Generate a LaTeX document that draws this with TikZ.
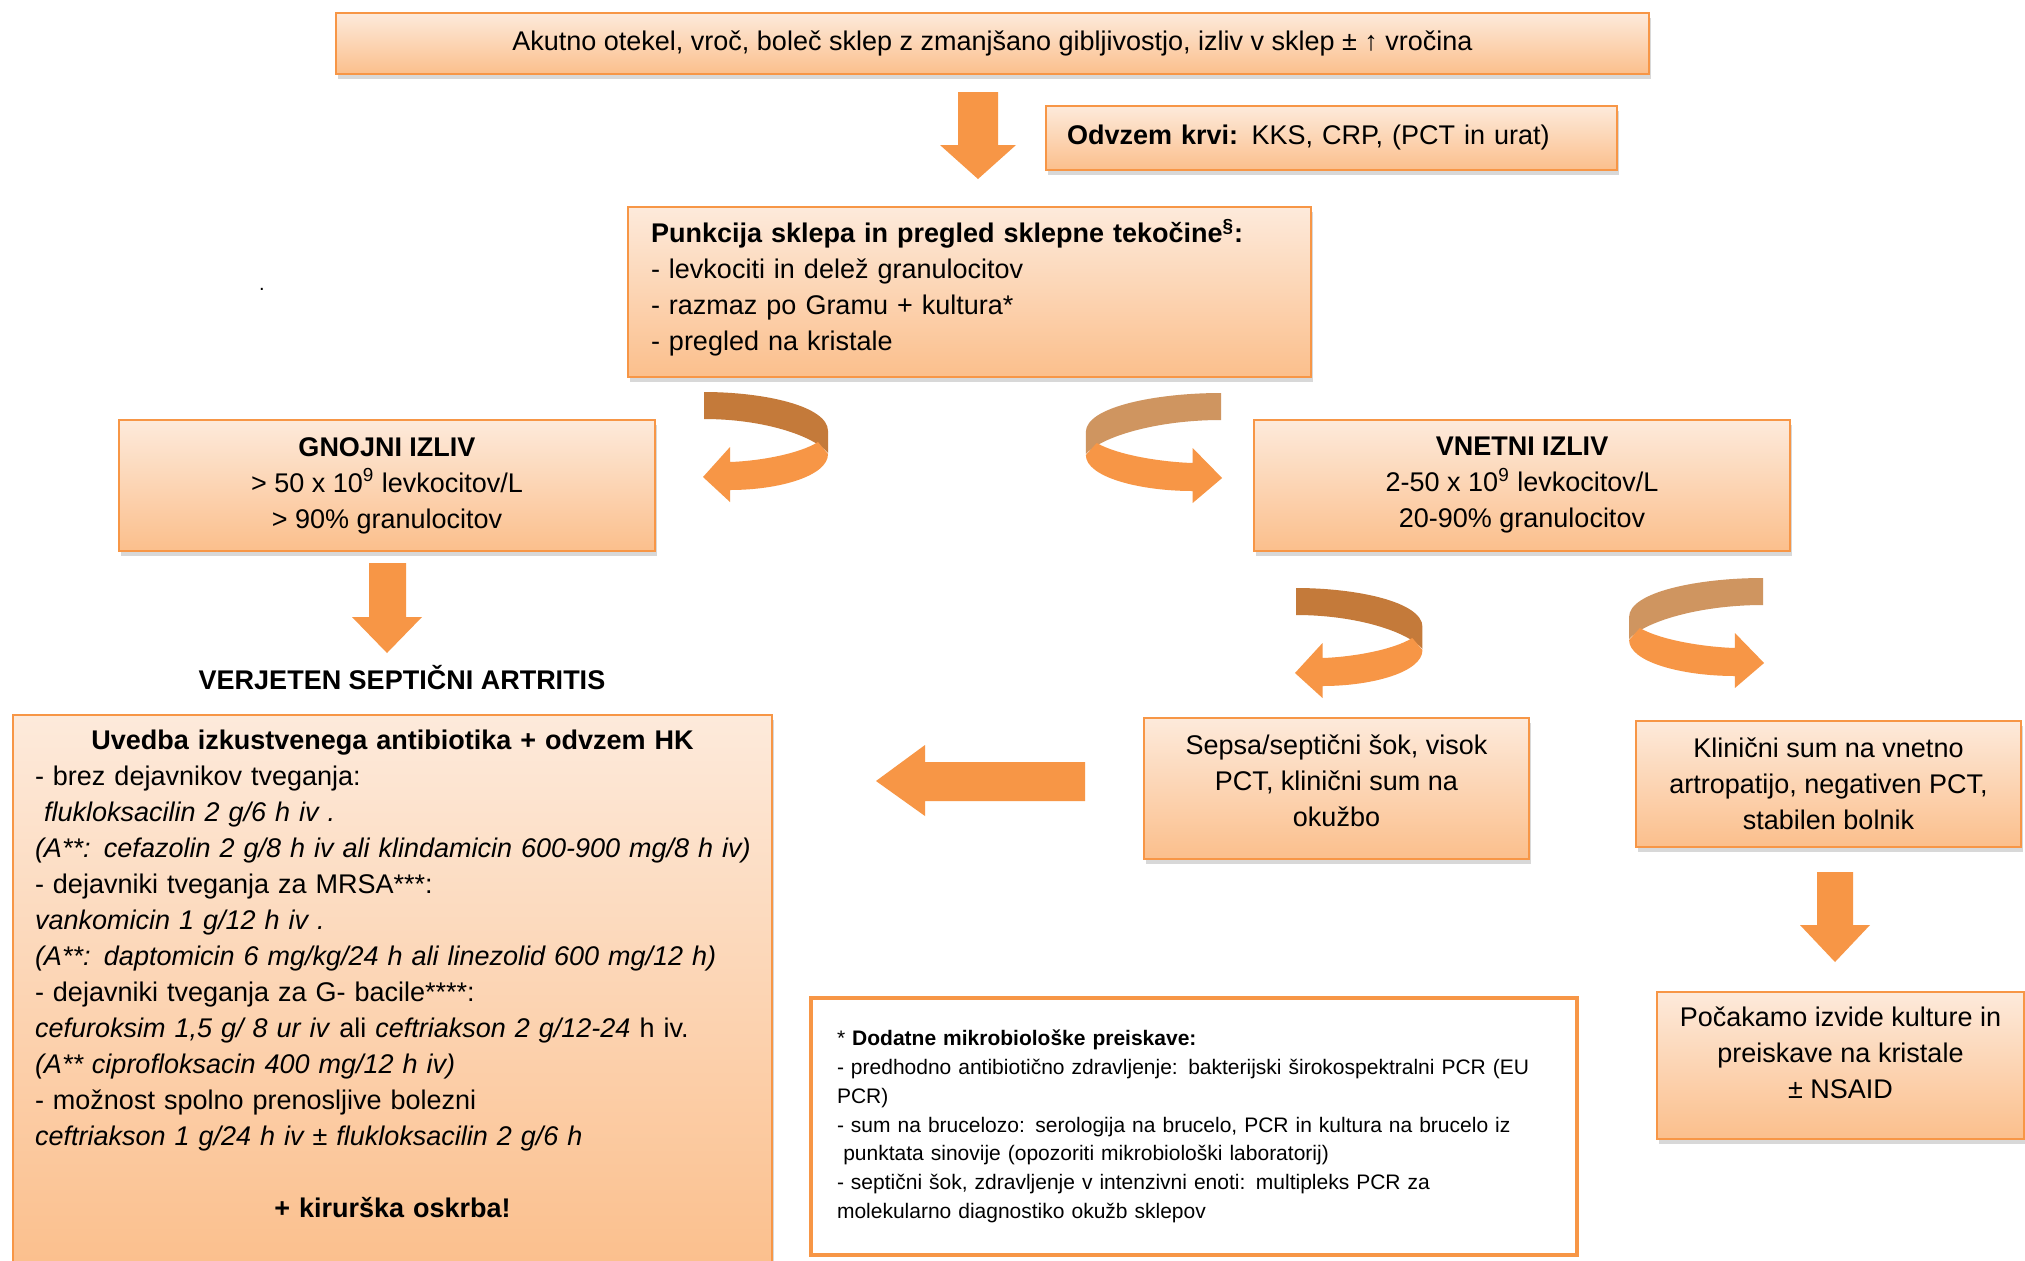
\documentclass[tikz,border=0pt]{standalone}
\usepackage{fontspec}
\setmainfont{Liberation Sans}
\usetikzlibrary{shadows}
\definecolor{boxtop}{HTML}{FDEADB}
\definecolor{boxbot}{HTML}{FBBF8C}
\definecolor{boxline}{HTML}{F79646}
\definecolor{arroworange}{HTML}{F79646}
\definecolor{backdark}{HTML}{C47A3A}
\definecolor{backlight}{HTML}{CF9560}
\tikzset{
  stage/.style={draw=boxline, line width=0.8pt, top color=boxtop, bottom color=boxbot,
    drop shadow={shadow xshift=1pt, shadow yshift=-2.5pt, opacity=0.3},
    font=\fontsize{13.5}{18}\selectfont, align=center, inner sep=0pt},
  note/.style={draw=boxline, line width=2pt, fill=white, align=left,
    font=\fontsize{10.5}{14.4}\selectfont, inner sep=0pt},
  fatarrow/.style={fill=arroworange},
  pics/turnarrow/.style={code={
    % back of the ribbon
    \fill[#1] (0,1) .. controls (60,1) and (124,15) .. (124,40) -- (124,62)
      .. controls (110,45) and (60,28) .. (0,28) -- cycle;
    % front of the ribbon with its head
    \fill[arroworange] (114,51) .. controls (95,63) and (55,70) .. (26,71)
      -- (26,56) -- (-1,86) -- (26,111) -- (26,99) .. controls (75,99) and (124,85) .. (124,63) -- cycle;
  }}
}
\begin{document}
\begin{tikzpicture}[x=0.5pt, y=-0.5pt]
\clip (0,0) rectangle (2025,1260);
\fill[white] (0,0) rectangle (2025,1260);

\node[stage, minimum width=656.5pt, minimum height=30.5pt] (onset) at (992.5,43.5)
  {Akutno otekel, vroč, boleč sklep z zmanjšano gibljivostjo, izliv v sklep ± ↑ vročina};
\node[stage, align=left, text width=264.5pt, inner xsep=10.5pt, minimum height=32pt] (blood) at (1331.5,138)
  {\textbf{Odvzem krvi:} KKS, CRP, (PCT in urat)};
\node[stage, align=left, text width=318.5pt, inner xsep=11.5pt, minimum height=85pt, text depth=61pt] (puncture) at (969.5,292)
  {\textbf{Punkcija sklepa in pregled sklepne tekočine\textsuperscript{§}:}\\
   - levkociti in delež granulocitov\\
   - razmaz po Gramu + kultura*\\
   - pregled na kristale};
\node (stray) at (262,289) {.};

\node[stage, minimum width=268pt, minimum height=65.5pt] (purulent) at (387,485.5)
  {\textbf{GNOJNI IZLIV}\\ > 50 x 10\textsuperscript{9} levkocitov/L\\ > 90\% granulocitov};
\node[stage, minimum width=268pt, minimum height=65.5pt] (inflam) at (1522,485.5)
  {\textbf{VNETNI IZLIV}\\ 2-50 x 10\textsuperscript{9} levkocitov/L\\ 20-90\% granulocitov};
\node[font=\fontsize{13.5}{18}\selectfont\bfseries] (septic) at (402,678) {VERJETEN SEPTIČNI ARTRITIS};

\node[stage, anchor=north, align=left, text width=357.5pt, inner xsep=11pt, inner ysep=7.5pt, text depth=255pt] (therapy) at (392.5,714)
  {\makebox[\linewidth][c]{\textbf{Uvedba izkustvenega antibiotika + odvzem HK}}\\
   - brez dejavnikov tveganja:\\
   \textit{\ flukloksacilin 2 g/6 h iv .}\\
   \mbox{\textit{(A**: cefazolin 2 g/8 h iv ali klindamicin 600-900 mg/8 h iv)}}\\
   - dejavniki tveganja za MRSA***:\\
   \textit{vankomicin 1 g/12 h iv .}\\
   \mbox{\textit{(A**: daptomicin 6 mg/kg/24 h ali linezolid 600 mg/12 h)}}\\
   - dejavniki tveganja za G- bacile****:\\
   \mbox{\textit{cefuroksim 1,5 g/ 8 ur iv} ali \textit{ceftriakson 2 g/12-24} h iv.}\\
   \textit{(A** ciprofloksacin 400 mg/12 h iv)}\\
   - možnost spolno prenosljive bolezni\\
   \mbox{\textit{ceftriakson 1 g/24 h iv ± flukloksacilin 2 g/6 h}}\\[18pt]
   \makebox[\linewidth][c]{\textbf{+ kirurška oskrba!}}};

\node[stage, minimum width=192.5pt, minimum height=70.5pt, text depth=8pt] (sepsis) at (1336.5,788.5)
  {Sepsa/septični šok, visok\\ PCT, klinični sum na\\ okužbo};
\node[stage, minimum width=192.5pt, minimum height=63pt] (clinical) at (1828.5,784)
  {Klinični sum na vnetno\\ artropatijo, negativen PCT,\\ stabilen bolnik};
\node[stage, minimum width=183.5pt, minimum height=73.5pt, text depth=13pt] (wait) at (1840.5,1065.5)
  {Počakamo izvide kulture in\\ preiskave na kristale\\ ± NSAID};

\node[note, text width=357pt, inner xsep=13pt, minimum height=128.5pt] (footnote) at (1194,1126.5)
  {* \textbf{Dodatne mikrobiološke preiskave:}\\
   \mbox{- predhodno antibiotično zdravljenje: bakterijski širokospektralni PCR (EU}\\
   PCR)\\
   \mbox{- sum na brucelozo: serologija na brucelo, PCR in kultura na brucelo iz}\\
   \hspace*{0.3em}punktata sinovije (opozoriti mikrobiološki laboratorij)\\
   - septični šok, zdravljenje v intenzivni enoti: multipleks PCR za\\
   molekularno diagnostiko okužb sklepov};

% straight block arrows
\fill[fatarrow] (958,92) -- (998,92) -- (998,145) -- (1016,145) -- (978,179) -- (940,145) -- (958,145) -- cycle;
\fill[fatarrow] (369,563) -- (406,563) -- (406,617) -- (422,617) -- (387,653) -- (352,617) -- (369,617) -- cycle;
\fill[fatarrow] (1817,872) -- (1853,872) -- (1853,925) -- (1870,925) -- (1835,962) -- (1800,925) -- (1817,925) -- cycle;
\fill[fatarrow] (1085,762) -- (1085,801) -- (925,801) -- (925,816) -- (876,781) -- (925,745) -- (925,762) -- cycle;

% turning ribbon arrows
\pic at (704,391) {turnarrow=backdark};
\pic[xscale=-1.09] at (1221,392) {turnarrow=backlight};
\pic[xscale=1.02] at (1296,587) {turnarrow=backdark};
\pic[xscale=-1.08] at (1763,577) {turnarrow=backlight};
\end{tikzpicture}
\end{document}
